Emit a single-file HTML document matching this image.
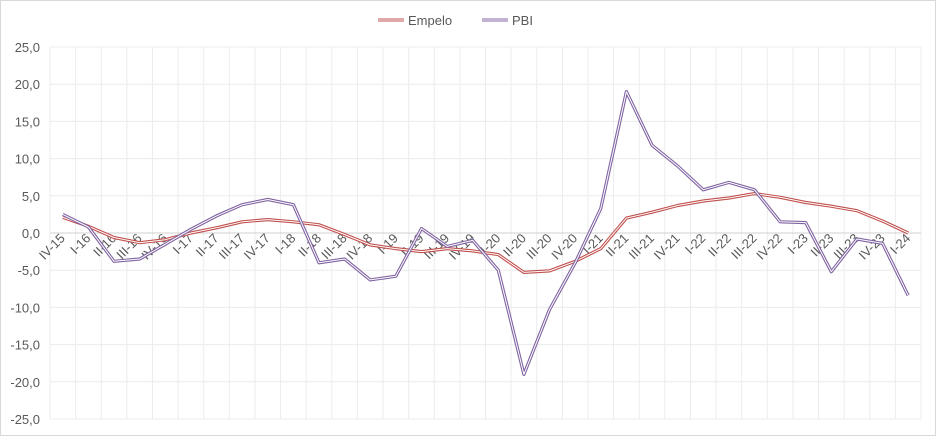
<!DOCTYPE html><html><head><style>body{margin:0;background:#fff}</style></head><body>
<svg width="936" height="436" xmlns="http://www.w3.org/2000/svg" font-family="Liberation Sans, sans-serif">
<rect x="0.5" y="0.5" width="935" height="435" fill="#fff" stroke="#d9d9d9"/>
<g id="g"></g>
<g font-size="13" fill="#595959" text-anchor="end" id="yl"></g>
<g font-size="13" fill="#595959" id="xl"></g>
<g id="s"></g>
<g font-size="13" fill="#595959">
<line x1="378" y1="20" x2="404" y2="20" stroke="#C0504D" stroke-width="3"/><line x1="378" y1="20" x2="404" y2="20" stroke="#fff" stroke-width="1"/>
<text x="408" y="25">Empelo</text>
<line x1="482" y1="20" x2="508" y2="20" stroke="#8064A2" stroke-width="3"/><line x1="482" y1="20" x2="508" y2="20" stroke="#fff" stroke-width="1"/>
<text x="512" y="25">PBI</text>
</g>
</svg>
<script>
const NS="http://www.w3.org/2000/svg";
function el(p,t,a,txt){const e=document.createElementNS(NS,t);for(const k in a)e.setAttribute(k,a[k]);if(txt!=null)e.textContent=txt;document.getElementById(p).appendChild(e);return e;}
const L=50,R=921,n=34,w=(R-L)/n;
const Y=v=>233-v*7.44;
const X=i=>L+w*(i+0.5);
for(let i=0;i<=n;i++)el('g','line',{x1:L+w*i,x2:L+w*i,y1:47,y2:419,stroke:'#ececec'});
for(let v=25;v>=-25;v-=5){el('g','line',{x1:L,x2:R,y1:Y(v),y2:Y(v),stroke:v==0?'#d0d0d0':'#ececec'});
el('yl','text',{x:40,y:Y(v)+5},v.toFixed(1).replace('.',',').replace('-','\u2212').replace('\u2212','-'));}
const labs=['IV-15'];for(let y=16;y<=23;y++)for(const q of['I','II','III','IV'])labs.push(q+'-'+y);labs.push('I-24');
labs.forEach((l,i)=>{const x=X(i)+3,y=239;el('xl','text',{x:x,y:y,'text-anchor':'end',transform:`rotate(-45 ${x} ${y})`},l);});
const pbi=[2.5,0.8,-3.8,-3.5,-1.5,0.5,2.3,3.8,4.5,3.8,-4,-3.5,-6.3,-5.8,0.6,-1.8,-1,-5,-19,-10.3,-4,3.3,19,11.8,9,5.8,6.8,5.8,1.5,1.4,-5.2,-0.8,-1.4,-8.4];
const emp=[2.1,0.9,-0.6,-1.3,-0.9,0,0.7,1.5,1.8,1.5,1.1,-0.2,-1.6,-2.1,-2.5,-2.1,-2.4,-2.9,-5.3,-5.1,-3.8,-2.1,2,2.8,3.7,4.3,4.7,5.3,4.8,4.1,3.6,3,1.6,0];
function ser(d,c){const p=d.map((v,i)=>X(i).toFixed(1)+','+Y(v).toFixed(1)).join(' ');
el('s','polyline',{points:p,fill:'none',stroke:c,'stroke-width':3.2,'stroke-linejoin':'round'});
el('s','polyline',{points:p,fill:'none',stroke:'#fff','stroke-width':1,'stroke-linejoin':'round'});}
ser(emp,'#C0504D');ser(pbi,'#8064A2');
</script>
</body></html>
